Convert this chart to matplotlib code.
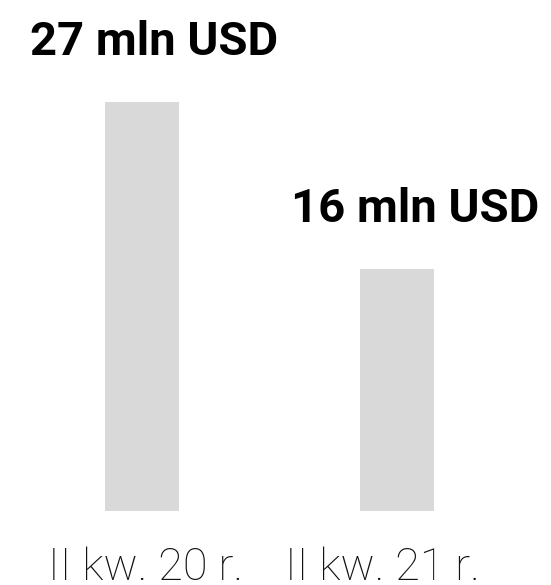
import matplotlib
matplotlib.use("Agg")
from matplotlib import pyplot as plt

quarters = ["II kw. 20 r.", "II kw. 21 r."]
values = [27, 16]
value_labels = ["27 mln USD", "16 mln USD"]

# pixel nudges for the text (figure is 100 dpi, so px * 0.72 = points)
label_dx = [12, 18]
tick_dx = [4, -15]

fig = plt.figure(figsize=(5.51, 5.85), dpi=100)
ax = fig.add_axes([0, 74 / 585, 1, 511 / 585])

xs = list(range(len(values)))
ax.bar(xs, values, width=0.29, color="#d9d9d9")
ax.set_xlim(-142 / 255, 409 / 255)
ax.set_ylim(0, 33.73)
ax.axis("off")

for x, v, lab, dx in zip(xs, values, value_labels, label_dx):
    ax.annotate(lab, xy=(x, v), xytext=(dx * 0.72, 47 * 0.72),
                textcoords="offset points", ha="center", va="baseline",
                fontsize=34, fontweight="bold", family="Roboto", color="black")

for x, q, dx in zip(xs, quarters, tick_dx):
    ax.annotate(q, xy=(x, 0), xytext=(dx * 0.72, -69 * 0.72),
                textcoords="offset points", ha="center", va="baseline",
                fontsize=32.5, fontweight="light", family="Roboto", color="#111111")

fig.savefig("out.png", dpi=100)
